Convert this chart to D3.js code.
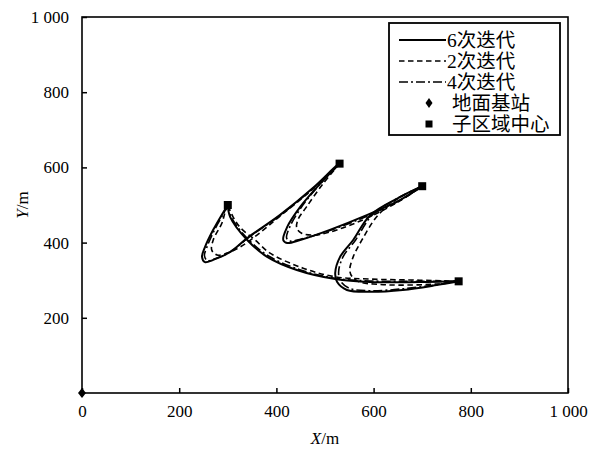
<!DOCTYPE html>
<html><head><meta charset="utf-8">
<script src="https://cdn.jsdelivr.net/npm/d3@7"></script>
<style>
html,body{margin:0;padding:0;background:#fff;}
text{font-family:"Liberation Serif","Times New Roman","Noto Sans CJK SC",serif;}
</style></head>
<body>
<svg id="chart" width="595" height="449"></svg>
<script>
// ---- data ----
const xTicks = [0, 200, 400, 600, 800, 1000];
const yTicks = [200, 400, 600, 800, 1000];
const tickLabel = v => v === 1000 ? "1 000" : String(v);

const centers = [[300, 500], [530, 610], [700, 550], [775, 297]];
const station = [[0, 0]];

// each series: four trajectory segments between sub-region centers
const iter6 = [
  [[300,500],[290,479],[270,434],[253,388],[247,362],[253,348],[270,354],[305,375],[340,412],[407,473],[475,545],[525,606],[530,610]],
  [[530,610],[484,548],[449,495],[422,441],[414,407],[422,399],[449,407],[510,434],[586,473],[654,513],[700,550]],
  [[700,550],[654,521],[593,473],[558,407],[531,362],[521,319],[525,295],[545,274],[593,269],[660,274],[730,287],[775,297]],
  [[775,297],[695,295],[593,295],[521,303],[442,327],[381,362],[340,407],[305,468],[300,500]]
];
const iter2 = [
  [[300,500],[294,479],[288,452],[270,407],[267,380],[278,367],[298,372],[325,388],[360,420],[407,470],[475,542],[530,610]],
  [[530,610],[495,555],[462,495],[444,460],[442,438],[452,425],[475,420],[510,428],[586,465],[650,508],[700,550]],
  [[700,550],[650,517],[609,473],[576,407],[558,362],[551,327],[556,309],[572,295],[610,289],[654,287],[730,290],[775,297]],
  [[775,297],[695,300],[593,303],[521,309],[455,332],[387,372],[356,407],[325,441],[311,468],[300,500]]
];
const iter4 = [
  [[300,500],[292,479],[272,432],[257,388],[252,365],[258,352],[274,357],[307,377],[342,413],[407,472],[475,544],[530,610]],
  [[530,610],[486,550],[452,495],[428,443],[421,412],[428,404],[453,410],[510,432],[586,470],[654,512],[700,550]],
  [[700,550],[652,520],[597,473],[563,407],[537,362],[528,322],[532,298],[551,278],[595,272],[660,277],[730,288],[775,297]],
  [[775,297],[695,297],[593,298],[521,305],[448,328],[383,365],[341,410],[307,468],[300,500]]
];

const seriesNames = ["6次迭代", "2次迭代", "4次迭代"];
const markerNames = ["地面基站", "子区域中心"];

// ---- layout ----
const svg = d3.select("#chart");
const L = 82, R = 568, T = 17, B = 393;
const x = d3.scaleLinear().domain([0, 1000]).range([L, R]);
const y = d3.scaleLinear().domain([0, 1000]).range([B, T]);

const styles = [
  {data: iter6, dash: null, w: 2},
  {data: iter2, dash: "5.5,3.5", w: 1.6},
  {data: iter4, dash: "9,3,2,3", w: 1.6}
];

// axes
const xAxis = d3.axisBottom(x).tickValues(xTicks).tickFormat(tickLabel).tickSizeInner(-5).tickSizeOuter(0).tickPadding(12);
const yAxis = d3.axisLeft(y).tickValues(yTicks).tickFormat(tickLabel).tickSizeInner(-5).tickSizeOuter(0).tickPadding(13);

const gx = svg.append("g").attr("transform", `translate(0,${B})`).call(xAxis);
const gy = svg.append("g").attr("transform", `translate(${L},0)`).call(yAxis);
[gx, gy].forEach(g => {
  g.select(".domain").remove();
  g.selectAll(".tick line").attr("stroke", "#000").attr("stroke-width", 1.5);
  g.selectAll(".tick text").attr("font-size", 17).attr("fill", "#000")
    .attr("font-family", "'Liberation Serif', serif");
});
gx.selectAll(".tick text").attr("dy", "0.71em");

// frame
svg.append("rect").attr("x", L).attr("y", T).attr("width", R - L).attr("height", B - T)
  .attr("fill", "none").attr("stroke", "#000").attr("stroke-width", 1.6);

// axis titles
const xt = svg.append("text").attr("x", (L + R) / 2).attr("y", 444).attr("text-anchor", "middle")
  .attr("font-size", 17).attr("fill", "#000");
xt.append("tspan").attr("font-style", "italic").text("X");
xt.append("tspan").text("/m");
const yt = svg.append("text").attr("transform", `translate(28,${(T + B) / 2}) rotate(-90)`)
  .attr("text-anchor", "middle").attr("font-size", 17).attr("fill", "#000");
yt.append("tspan").attr("font-style", "italic").text("Y");
yt.append("tspan").text("/m");

// trajectories
const line = d3.line().x(d => x(d[0])).y(d => y(d[1])).curve(d3.curveCatmullRom.alpha(0.5));
styles.slice().reverse().forEach(s => {
  svg.append("g").selectAll("path").data(s.data).join("path")
    .attr("d", line).attr("fill", "none").attr("stroke", "#000")
    .attr("stroke-width", s.w).attr("stroke-dasharray", s.dash);
});

// markers
const diamond = (cx, cy, w, h) => `M${cx},${cy - h / 2}L${cx + w / 2},${cy}L${cx},${cy + h / 2}L${cx - w / 2},${cy}Z`;
svg.append("g").selectAll("rect").data(centers).join("rect")
  .attr("x", d => x(d[0]) - 4).attr("y", d => y(d[1]) - 4).attr("width", 8).attr("height", 8).attr("fill", "#000");
svg.append("g").selectAll("path").data(station).join("path")
  .attr("d", d => diamond(x(d[0]), y(d[1]), 8, 10)).attr("fill", "#000");

// legend
const lg = svg.append("g");
lg.append("rect").attr("x", 389).attr("y", 23).attr("width", 171).attr("height", 112)
  .attr("fill", "#fff").attr("stroke", "#000").attr("stroke-width", 1.8);
const rowY = [40, 61, 82, 103, 124];
styles.forEach((s, i) => {
  lg.append("line").attr("x1", 399).attr("x2", 446).attr("y1", rowY[i]).attr("y2", rowY[i])
    .attr("stroke", "#000").attr("stroke-width", s.w).attr("stroke-dasharray", s.dash);
  lg.append("text").attr("x", 447).attr("y", rowY[i]).attr("dy", "0.36em")
    .attr("font-size", 19.5).attr("fill", "#000").text(seriesNames[i]);
});
lg.append("path").attr("d", diamond(429, rowY[3], 7, 10)).attr("fill", "#000");
lg.append("rect").attr("x", 425.5).attr("y", rowY[4] - 3.5).attr("width", 7).attr("height", 7).attr("fill", "#000");
markerNames.forEach((n, i) => {
  lg.append("text").attr("x", 452).attr("y", rowY[3 + i]).attr("dy", "0.36em")
    .attr("font-size", 19.5).attr("fill", "#000").text(n);
});
</script>
</body></html>
